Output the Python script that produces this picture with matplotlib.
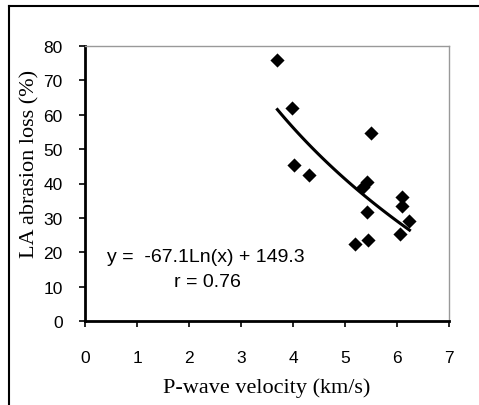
import numpy as np
import matplotlib
matplotlib.use("Agg")
import matplotlib.pyplot as plt
from matplotlib.lines import Line2D

# Data
vp = [3.70, 3.99, 5.50, 4.01, 4.31, 5.42, 5.34, 6.10, 6.10, 5.42, 6.24, 6.05, 5.19, 5.45]
la = [76.0, 62.1, 54.6, 45.5, 42.5, 40.3, 39.0, 36.1, 33.5, 31.6, 29.0, 25.3, 22.3, 23.5]
coef_a = -67.1
coef_b = 149.3
r_value = 0.76
xticks = [0, 1, 2, 3, 4, 5, 6, 7]
yticks = [0, 10, 20, 30, 40, 50, 60, 70, 80]

W, H = 479, 406
fig = plt.figure(figsize=(W / 100, H / 100), dpi=100)
fig.patch.set_facecolor("white")

ax = fig.add_axes([85 / W, 1 - 322 / H, (449 - 85) / W, (322 - 47) / H])

ax.scatter(vp, la, marker="D", s=52, color="black", zorder=3, linewidths=0)
xf = np.linspace(min(vp), max(vp), 100)
ax.plot(xf, coef_a * np.log(xf) + coef_b, color="black", lw=2.2, zorder=2)

ax.set_xlim(0, 7)
ax.set_ylim(0, 80)
ax.set_xticks(xticks)
ax.set_yticks(yticks)
sans = "Liberation Sans"
serif = "Liberation Serif"
ax.set_xticklabels([str(t) for t in xticks], fontfamily=sans, fontsize=12.5)
ax.set_yticklabels([str(t) for t in yticks], fontfamily=sans, fontsize=12.5)
ax.tick_params(direction="out", length=4, width=1.2, color="black")
ax.tick_params(axis="x", pad=17)
ax.tick_params(axis="y", pad=12)

for s in ["left", "bottom"]:
    ax.spines[s].set_linewidth(2)
    ax.spines[s].set_color("black")
for s in ["top", "right"]:
    ax.spines[s].set_linewidth(1)
    ax.spines[s].set_color("#999999")

ax.set_xlabel("P-wave velocity (km/s)", fontfamily=serif, fontsize=16, labelpad=9)
ax.set_ylabel("LA abrasion loss (%)", fontfamily=serif, fontsize=16)
ax.yaxis.set_label_coords(-0.125, 0.576)

ax.text(0.332, 0.233, "y =  %.1fLn(x) + %.1f" % (coef_a, coef_b), transform=ax.transAxes,
        fontfamily=sans, fontsize=14, ha="center", va="center")
ax.text(0.335, 0.142, "r = %.2f" % r_value, transform=ax.transAxes,
        fontfamily=sans, fontsize=14, ha="center", va="center")

# outer frame (left and top visible)
fig.add_artist(Line2D([9 / W, 9 / W], [0, 1 - 7 / H], color="black", lw=1.5, transform=fig.transFigure))
fig.add_artist(Line2D([9 / W, 1], [1 - 7 / H, 1 - 7 / H], color="black", lw=1.5, transform=fig.transFigure))

fig.savefig("out.png", dpi=100)
